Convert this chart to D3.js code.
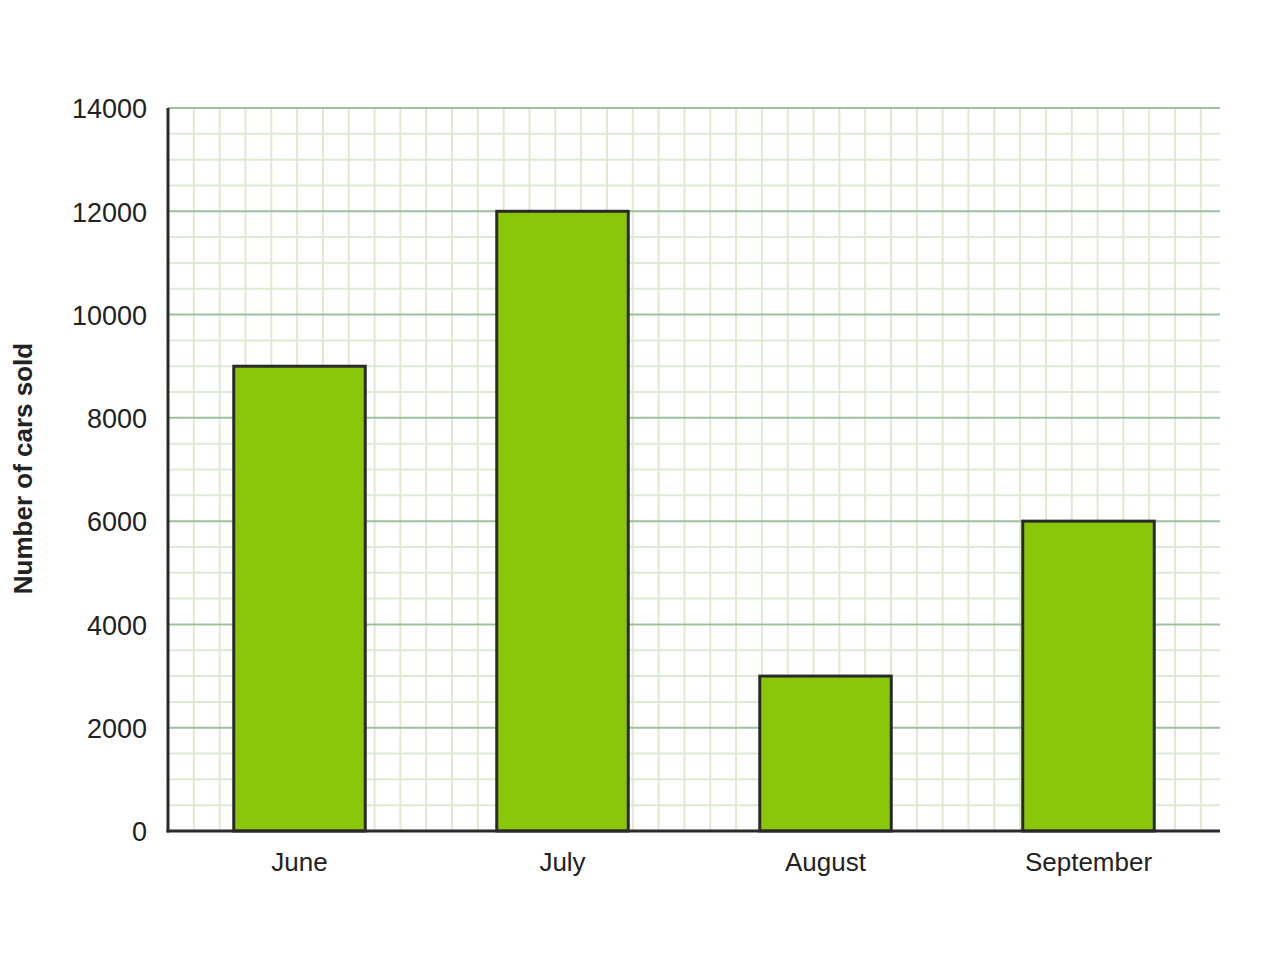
<!DOCTYPE html>
<html>
<head>
<meta charset="utf-8">
<script src="https://cdn.jsdelivr.net/npm/d3@7"></script>
<style>
  body { margin: 0; background: #fff; }
  text { font-family: "Liberation Sans", Arial, sans-serif; fill: #222; }
</style>
</head>
<body>
<div id="chart"></div>
<script>
// data
const months = ['June', 'July', 'August', 'September']
const carsSold = [9000, 12000, 3000, 6000]
const yTicks = [0, 2000, 4000, 6000, 8000, 10000, 12000, 14000]

const width = 1280
const height = 980
const margin = { top: 108, right: 60, bottom: 149, left: 168 }
const innerW = width - margin.left - margin.right
const innerH = height - margin.top - margin.bottom

const svg = d3.select('#chart').append('svg')
    .attr('width', width)
    .attr('height', height)

const g = svg.append('g')
    .attr('transform', `translate(${margin.left},${margin.top})`)

const x = d3.scaleBand()
    .domain(months)
    .range([0, innerW])
    .paddingInner(0.5)
    .paddingOuter(0.25)

const y = d3.scaleLinear()
    .domain([0, 14000])
    .range([innerH, 0])

// minor grid, square cells of 500 units
const minorStep = y(0) - y(500)
const minorY = d3.range(0, 14001, 500).filter(v => v % 2000 !== 0)
const minorX = d3.range(minorStep, innerW, minorStep)

g.append('g').selectAll('line')
    .data(minorX)
    .join('line')
    .attr('x1', d => d).attr('x2', d => d)
    .attr('y1', 0).attr('y2', innerH)
    .attr('stroke', '#dcebd2')
    .attr('stroke-width', 2)

g.append('g').selectAll('line')
    .data(minorY)
    .join('line')
    .attr('x1', 0).attr('x2', innerW)
    .attr('y1', d => y(d)).attr('y2', d => y(d))
    .attr('stroke', '#dcebd2')
    .attr('stroke-width', 2)

// major grid
g.append('g').selectAll('line')
    .data(yTicks.filter(d => d > 0))
    .join('line')
    .attr('x1', 0).attr('x2', innerW)
    .attr('y1', d => y(d)).attr('y2', d => y(d))
    .attr('stroke', '#9dc19b')
    .attr('stroke-width', 2)

// bars
g.append('g').selectAll('rect')
    .data(months)
    .join('rect')
    .attr('x', d => x(d))
    .attr('y', (d, i) => y(carsSold[i]))
    .attr('width', x.bandwidth())
    .attr('height', (d, i) => y(0) - y(carsSold[i]))
    .attr('fill', '#8ac709')
    .attr('stroke', '#2a2a2a')
    .attr('stroke-width', 3)

// y axis
const yAxis = g.append('g')
    .call(d3.axisLeft(y).tickValues(yTicks).tickSize(0).tickPadding(21).tickFormat(d3.format('d')))
yAxis.select('.domain').remove()
yAxis.selectAll('text')
    .style('font-size', '27px')
    .attr('fill', '#222')
    .attr('dy', '0.36em')

// x axis
const xAxis = g.append('g')
    .attr('transform', `translate(0,${innerH})`)
    .call(d3.axisBottom(x).tickSize(0).tickPadding(22))
xAxis.select('.domain').remove()
xAxis.selectAll('text')
    .style('font-size', '26px')
    .attr('fill', '#222')

// axis lines on top
g.append('line')
    .attr('x1', 0).attr('x2', 0)
    .attr('y1', 0).attr('y2', innerH + 1.5)
    .attr('stroke', '#2a2a2a')
    .attr('stroke-width', 3)
g.append('line')
    .attr('x1', -1.5).attr('x2', innerW)
    .attr('y1', innerH).attr('y2', innerH)
    .attr('stroke', '#2a2a2a')
    .attr('stroke-width', 3)

// y title
svg.append('text')
    .attr('transform', `translate(32,${margin.top + innerH / 2 - 1}) rotate(-90)`)
    .attr('text-anchor', 'middle')
    .style('font-size', '26px')
    .style('font-weight', 'bold')
    .text('Number of cars sold')
</script>
</body>
</html>
